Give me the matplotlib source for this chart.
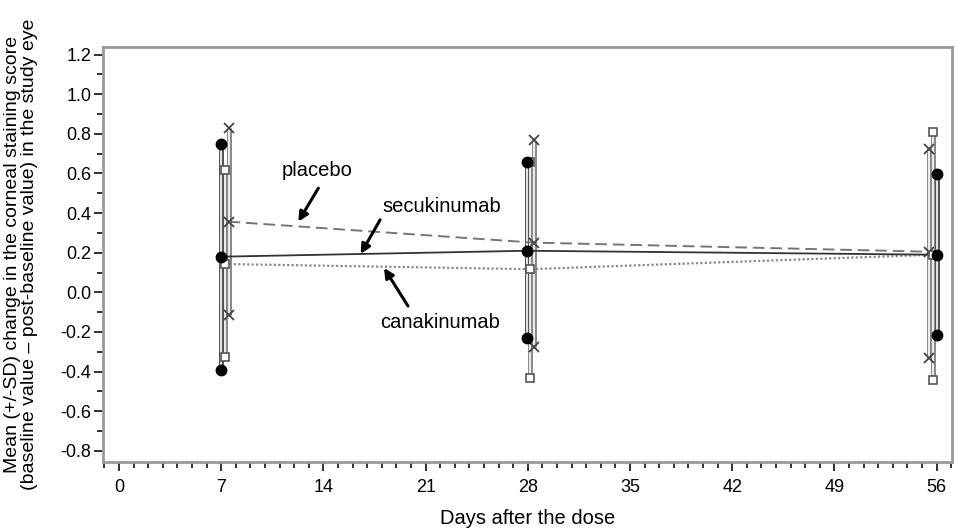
# =====================================================
# MEAN (+/-SD) CHANGE IN CORNEAL STAINING SCORE
# =====================================================

import numpy as np
import matplotlib.pyplot as plt
from matplotlib.ticker import MultipleLocator, FormatStrFormatter

plt.rcParams['font.family'] = ['Liberation Sans', 'DejaVu Sans']
plt.rcParams['axes.unicode_minus'] = False

# =====================================================
# DATA
# =====================================================

days = [7, 28, 56]
x_ticks = [0, 7, 14, 21, 28, 35, 42, 49, 56]

# small horizontal shift so the groups do not overlap
shift_secukinumab = [0.0, -0.05, 0.0]
shift_canakinumab = [0.25, 0.15, -0.25]
shift_placebo = [0.5, 0.4, -0.5]

secukinumab_mean = [0.18, 0.21, 0.19]
secukinumab_lo = [-0.39, -0.23, -0.215]
secukinumab_hi = [0.75, 0.656, 0.595]

canakinumab_mean = [0.143, 0.117, 0.19]
canakinumab_lo = [-0.325, -0.43, -0.443]
canakinumab_hi = [0.619, 0.66, 0.807]

placebo_mean = [0.357, 0.251, 0.205]
placebo_lo = [-0.114, -0.275, -0.33]
placebo_hi = [0.829, 0.77, 0.723]

# =====================================================
# FIGURE
# =====================================================

fig = plt.figure(figsize=(9.57, 5.31), dpi=100)
ax = fig.add_axes([0.1073, 0.1305, 0.8872, 0.7815])


def draw_group(shift, mean, lo, hi, line_kw, marker_kw, bar_color):
    x = np.array(days) + np.array(shift)
    # SD bars drawn as a thin outlined bar
    ax.vlines(x, lo, hi, color=bar_color, lw=3.6, zorder=2)
    ax.vlines(x, lo, hi, color='white', lw=1.2, zorder=2.1)
    ax.plot(x, mean, zorder=3, **line_kw)
    for vals in (lo, mean, hi):
        ax.plot(x, vals, linestyle='none', zorder=4, **marker_kw)


draw_group(
    shift_placebo, placebo_mean, placebo_lo, placebo_hi,
    dict(color='#767676', lw=1.4, dashes=(6, 3)),
    dict(marker='x', color='#444444', markersize=7, mew=1.3),
    '#8a8a8a'
)

draw_group(
    shift_canakinumab, canakinumab_mean, canakinumab_lo, canakinumab_hi,
    dict(color='#8a8a8a', lw=1.6, linestyle=(0, (1, 1))),
    dict(marker='s', mfc='white', mec='#555555', markersize=6, mew=1.2),
    '#8a8a8a'
)

draw_group(
    shift_secukinumab, secukinumab_mean, secukinumab_lo, secukinumab_hi,
    dict(color='#333333', lw=1.3),
    dict(marker='o', color='black', markersize=7.5),
    '#555555'
)

# =====================================================
# ANNOTATIONS
# =====================================================

arrow = dict(arrowstyle='-|>', lw=2.2, color='black', mutation_scale=14,
             shrinkA=0, shrinkB=0)

ax.text(13.56, 0.615, 'placebo', fontsize=14.5, ha='center', va='center')
ax.annotate('', xy=(12.28, 0.357), xytext=(13.65, 0.526), arrowprops=arrow)

ax.text(22.12, 0.433, 'secukinumab', fontsize=14.5, ha='center', va='center')
ax.annotate('', xy=(16.55, 0.194), xytext=(17.88, 0.366), arrowprops=arrow)

ax.text(21.99, -0.15, 'canakinumab', fontsize=14.5, ha='center', va='center')
ax.annotate('', xy=(18.15, 0.123), xytext=(19.79, -0.069), arrowprops=arrow)

# =====================================================
# AXES
# =====================================================

ax.set_xlim(-1.12, 57.03)
ax.set_ylim(-0.855, 1.24)

ax.set_xticks(x_ticks)
ax.xaxis.set_minor_locator(MultipleLocator(1))
ax.yaxis.set_major_locator(MultipleLocator(0.2))
ax.yaxis.set_minor_locator(MultipleLocator(0.1))
ax.yaxis.set_major_formatter(FormatStrFormatter('%.1f'))

ax.tick_params(which='major', direction='out', length=6.5, width=1.3,
               color='#222222', labelsize=13)
ax.tick_params(which='minor', direction='out', length=4, width=1.3,
               color='#222222')
ax.tick_params(axis='y', which='major', pad=1.5)
ax.tick_params(axis='x', which='major', pad=6)

for spine in ax.spines.values():
    spine.set_color('#9a9a9a')
    spine.set_linewidth(2)

ax.set_xlabel('Days after the dose', fontsize=14.5, labelpad=9)
ax.set_ylabel(
    'Mean (+/-SD) change in the corneal staining score\n'
    '(baseline value \u2013 post-baseline value) in the study eye',
    fontsize=14, labelpad=16, linespacing=1.0
)

fig.savefig('out.png', dpi=100)
